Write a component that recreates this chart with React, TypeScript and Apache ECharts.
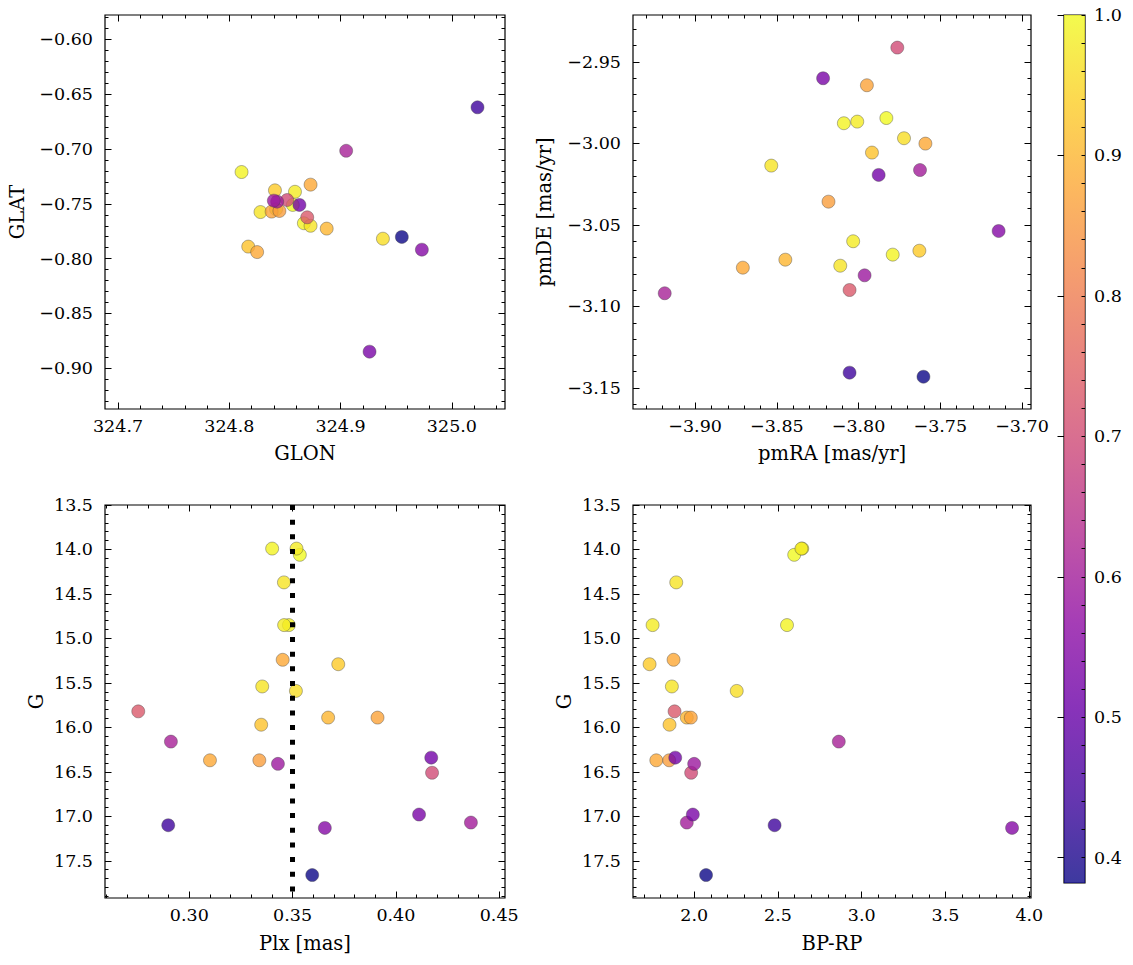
import React, { useEffect, useRef } from "react";
import * as echarts from "echarts";

// ---- data: one entry per star ----
const PROB = [0.99, 0.98, 1.0, 0.97, 0.98, 0.99, 0.88, 0.93, 0.97, 0.96, 0.73, 0.9, 0.87, 0.92, 0.61, 0.88, 0.86, 0.59, 0.52, 0.7, 0.53, 0.6, 0.44, 0.55, 0.382];
const GLON = [324.811, 324.859, 324.857, 324.828, 324.842, 324.867, 324.873, 324.841, 324.873, 324.938, 324.87, 324.8875, 324.838, 324.817, 324.905, 324.825, 324.845, 324.84, 324.863, 324.852, 324.926, 324.843, 325.023, 324.973, 324.955];
const GLAT = [-0.721, -0.739, -0.751, -0.7575, -0.755, -0.7677, -0.7325, -0.7377, -0.77, -0.7818, -0.7623, -0.7726, -0.7571, -0.789, -0.7016, -0.794, -0.7565, -0.7471, -0.751, -0.7465, -0.8848, -0.748, -0.662, -0.7918, -0.7802];
const PMRA = [-3.809, -3.8008, -3.783, -3.8534, -3.8033, -3.7791, -3.7591, -3.7628, -3.8112, -3.7722, -3.8055, -3.8448, -3.7949, -3.7918, -3.9186, -3.8708, -3.8184, -3.7963, -3.7877, -3.7763, -3.8217, -3.7624, -3.8055, -3.7143, -3.7603];
const PMDE = [-2.9876, -2.9866, -2.9844, -3.0136, -3.06, -3.0682, -3.0001, -3.0658, -3.075, -2.9968, -3.0899, -3.0713, -2.9643, -3.0056, -3.0919, -3.0762, -3.0357, -3.0809, -3.0193, -2.9412, -2.96, -3.0163, -3.1406, -3.0537, -3.1431];
const PLX = [0.3401, 0.3519, 0.3535, 0.3458, 0.3459, 0.3482, 0.3452, 0.3721, 0.3353, 0.3516, 0.2753, 0.3672, 0.3911, 0.3348, 0.2911, 0.31, 0.3339, 0.3429, 0.4171, 0.4175, 0.4112, 0.4363, 0.2898, 0.3656, 0.3595];
const GMAG = [13.99, 13.99, 14.06, 14.37, 14.85, 14.85, 15.24, 15.29, 15.54, 15.59, 15.82, 15.89, 15.89, 15.97, 16.16, 16.37, 16.37, 16.41, 16.34, 16.51, 16.98, 17.07, 17.1, 17.13, 17.66];
const BPRP = [2.645, 2.64, 2.597, 1.893, 1.752, 2.554, 1.877, 1.734, 1.867, 2.254, 1.883, 1.956, 1.98, 1.853, 2.863, 1.774, 1.851, 2.0, 1.887, 1.982, 1.992, 1.956, 2.48, 3.897, 2.071];
const PLX_REF = 0.348;

// ---- tick labels ----
const GLON_TICKS = [324.7, 324.8, 324.9, 325.0];
const GLAT_TICKS = [-0.9, -0.85, -0.8, -0.75, -0.7, -0.65, -0.6];
const PMRA_TICKS = [-3.9, -3.85, -3.8, -3.75, -3.7];
const PMDE_TICKS = [-3.15, -3.1, -3.05, -3.0, -2.95];
const PLX_TICKS = [0.3, 0.35, 0.4, 0.45];
const G_TICKS = [13.5, 14.0, 14.5, 15.0, 15.5, 16.0, 16.5, 17.0, 17.5];
const BPRP_TICKS = [2.0, 2.5, 3.0, 3.5, 4.0];
const CB_TICKS = [0.4, 0.5, 0.6, 0.7, 0.8, 0.9, 1.0];

const PLASMA = ["#0d0887", "#41049d", "#6a00a8", "#8f0da4", "#b12a90", "#cc4778", "#e16462", "#f2844b", "#fca636", "#fcce25", "#f0f921"];
const FONT = "DejaVu Serif";
const TICK_FS = 17.5;
const NAME_FS = 19.5;

const tickFmt = (d: number) => (v: number) => Number(v).toFixed(d).replace("-", "\u2212");

function steps(lo: number, hi: number, step: number): number[] {
  const out: number[] = [];
  const k0 = Math.ceil(lo / step - 1e-6);
  for (let k = k0; k * step <= hi + 1e-9; k++) out.push(+(k * step).toFixed(6));
  return out;
}

function mkAxes(dir: "x" | "y", gi: number, min: number, max: number, majors: number[], minorStep: number, dec: number, name: string, nameGap: number, inverse = false) {
  const minors = steps(min, max, minorStep);
  const base: any = { type: "value", gridIndex: gi, min, max, inverse, splitLine: { show: false }, axisLine: { show: false }, z: 5 };
  const posA = dir === "x" ? "bottom" : "left";
  const posB = dir === "x" ? "top" : "right";
  const tick = (vals: number[], len: number) => ({ show: true, inside: true, length: len, customValues: vals, lineStyle: { color: "#000", width: 1 } });
  return [
    {
      ...base,
      position: posA,
      axisTick: tick(majors, 6.5),
      axisLabel: { show: true, customValues: majors, formatter: tickFmt(dec), fontFamily: FONT, fontSize: TICK_FS, color: "#000", margin: dir === "x" ? 8 : 12 },
      name,
      nameLocation: "middle",
      nameGap,
      nameRotate: dir === "y" ? 90 : 0,
      nameTextStyle: { fontFamily: FONT, fontSize: NAME_FS, color: "#000" },
    },
    { ...base, position: posA, axisTick: tick(minors, 3.5), axisLabel: { show: false } },
    { ...base, position: posB, axisTick: tick(majors, 6.5), axisLabel: { show: false } },
    { ...base, position: posB, axisTick: tick(minors, 3.5), axisLabel: { show: false } },
  ];
}

export default function App() {
  const ref = useRef<HTMLDivElement>(null);
  useEffect(() => {
    document.body.style.margin = "0";
    const chart = echarts.init(ref.current!, null, { renderer: "svg" });
    const CB_MIN = Math.min(...PROB);
    const CB_MAX = Math.max(...PROB);
    const order = PROB.map((_, i) => i).sort((a, b) => PROB[b] - PROB[a]);

    const panels = [
      { grid: { left: 105, top: 15, width: 400, height: 394 }, xs: GLON, ys: GLAT, xr: [324.6883, 325.0477], yr: [-0.9371, -0.5778], xt: GLON_TICKS, xm: 0.02, yt: GLAT_TICKS, ym: 0.01, xd: 1, yd: 2, xn: "GLON", yn: "GLAT", xg: 34, yg: 78, inv: false },
      { grid: { left: 633, top: 15, width: 398, height: 394 }, xs: PMRA, ys: PMDE, xr: [-3.938, -3.6945], yr: [-3.1629, -2.9212], xt: PMRA_TICKS, xm: 0.01, yt: PMDE_TICKS, ym: 0.01, xd: 2, yd: 2, xn: "pmRA [mas/yr]", yn: "pmDE [mas/yr]", xg: 34, yg: 79, inv: false },
      { grid: { left: 105, top: 505, width: 400, height: 393 }, xs: PLX, ys: GMAG, xr: [0.2592, 0.4528], yr: [13.5, 17.918], xt: PLX_TICKS, xm: 0.01, yt: G_TICKS, ym: 0.1, xd: 2, yd: 1, xn: "Plx [mas]", yn: "G", xg: 35, yg: 59, inv: true },
      { grid: { left: 633, top: 505, width: 398, height: 393 }, xs: BPRP, ys: GMAG, xr: [1.635, 4.01], yr: [13.5, 17.918], xt: BPRP_TICKS, xm: 0.1, yt: G_TICKS, ym: 0.1, xd: 1, yd: 1, xn: "BP-RP", yn: "G", xg: 35, yg: 59, inv: true },
    ];

    const grids: any[] = [];
    const xAxis: any[] = [];
    const yAxis: any[] = [];
    const series: any[] = [];
    panels.forEach((p, gi) => {
      grids.push({ ...p.grid, show: true, borderColor: "#000", borderWidth: 1.2, backgroundColor: "transparent" });
      xAxis.push(...mkAxes("x", gi, p.xr[0], p.xr[1], p.xt, p.xm, p.xd, p.xn, p.xg));
      yAxis.push(...mkAxes("y", gi, p.yr[0], p.yr[1], p.yt, p.ym, p.yd, p.yn, p.yg, p.inv));
      const s: any = {
        type: "scatter",
        xAxisIndex: gi * 4,
        yAxisIndex: gi * 4,
        symbolSize: 13,
        data: order.map((i) => [p.xs[i], p.ys[i], PROB[i]]),
        itemStyle: { opacity: 0.8, borderColor: "#444", borderWidth: 0.5 },
        z: 3,
      };
      if (gi === 2) {
        s.markLine = {
          silent: true,
          symbol: "none",
          label: { show: false },
          lineStyle: { color: "#000", width: 5, type: [5, 9.67], cap: "butt", opacity: 1 },
          data: [{ xAxis: PLX_REF }],
        };
      }
      series.push(s);
    });

    // colorbar
    grids.push({ left: 1064, top: 15, width: 21, height: 868, show: true, borderColor: "#000", borderWidth: 1.2, backgroundColor: "transparent" });
    xAxis.push({ type: "value", gridIndex: 4, min: 0, max: 1, show: false });
    const cbMinors = steps(CB_MIN, CB_MAX, 0.02);
    yAxis.push({
      type: "value", gridIndex: 4, position: "right", min: CB_MIN, max: CB_MAX, splitLine: { show: false }, axisLine: { show: false }, z: 5,
      axisTick: { show: true, inside: true, length: 6.5, customValues: CB_TICKS, lineStyle: { color: "#000", width: 1 } },
      axisLabel: { show: true, customValues: CB_TICKS, formatter: tickFmt(1), fontFamily: FONT, fontSize: TICK_FS, color: "#000", margin: 9 },
    });
    yAxis.push({
      type: "value", gridIndex: 4, position: "right", min: CB_MIN, max: CB_MAX, splitLine: { show: false }, axisLine: { show: false }, z: 5,
      axisTick: { show: true, inside: true, length: 3.5, customValues: cbMinors, lineStyle: { color: "#000", width: 1 } },
      axisLabel: { show: false },
    });
    const stops = PLASMA.slice().reverse().map((c, i) => ({ offset: i / (PLASMA.length - 1), color: c }));
    series.push({
      type: "custom",
      xAxisIndex: 16,
      yAxisIndex: 16,
      data: [[0, CB_MIN, CB_MAX]],
      renderItem: (params: any, api: any) => {
        const cs = params.coordSys;
        const top = api.coord([0, api.value(2)]);
        const bot = api.coord([0, api.value(1)]);
        return {
          type: "rect",
          shape: { x: cs.x, y: top[1], width: cs.width, height: bot[1] - top[1] },
          style: { fill: new echarts.graphic.LinearGradient(0, 0, 0, 1, stops), opacity: 0.8 },
        };
      },
      z: 1,
    });

    chart.setOption({
      animation: false,
      backgroundColor: "#fff",
      grid: grids,
      xAxis,
      yAxis,
      visualMap: { type: "continuous", show: false, min: CB_MIN, max: CB_MAX, dimension: 2, seriesIndex: [0, 1, 2, 3], inRange: { color: PLASMA } },
      series,
    });
    return () => chart.dispose();
  }, []);
  return <div ref={ref} style={{ width: 1133, height: 965 }} />;
}
